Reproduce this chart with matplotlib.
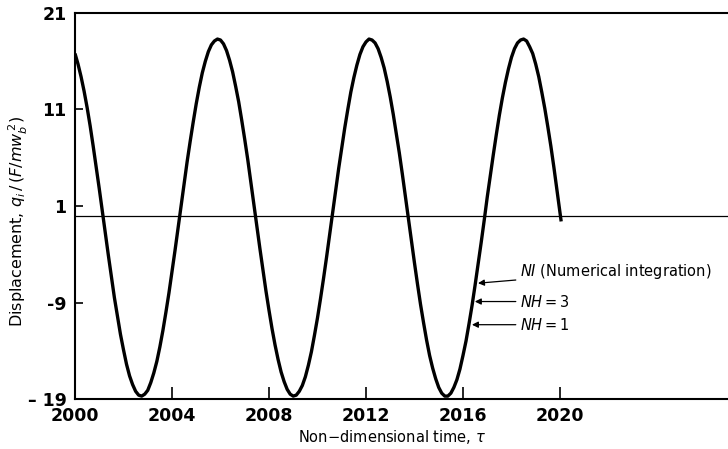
import matplotlib
matplotlib.use("Agg")
import matplotlib.pyplot as plt

# Non-dimensional time and displacement samples of the response curve
tau = [2000.0 + 0.125 * i for i in range(160)] + [2020.05]
q = [
    16.8, 15.7, 14.4, 12.9, 11.2, 9.3, 7.2, 5.0, 2.8, 0.5,
    -1.8, -4.1, -6.3, -8.5, -10.4, -12.3, -13.9, -15.4, -16.6, -17.5,
    -18.2, -18.6, -18.7, -18.5, -18.1, -17.3, -16.3, -15.1, -13.6, -11.9,
    -10.0, -8.0, -5.8, -3.6, -1.3, 1.0, 3.3, 5.6, 7.7, 9.7,
    11.6, 13.3, 14.8, 16.0, 17.0, 17.7, 18.1, 18.3, 18.2, 17.8,
    17.1, 16.1, 14.9, 13.4, 11.8, 9.9, 7.9, 5.8, 3.5, 1.2,
    -1.1, -3.4, -5.6, -7.8, -9.8, -11.7, -13.4, -14.9, -16.2, -17.2,
    -18.0, -18.5, -18.7, -18.6, -18.2, -17.6, -16.7, -15.5, -14.1, -12.4,
    -10.6, -8.6, -6.5, -4.3, -2.0, 0.3, 2.6, 4.9, 7.0, 9.1,
    11.0, 12.8, 14.3, 15.6, 16.7, 17.5, 18.0, 18.3, 18.2, 17.9,
    17.3, 16.4, 15.3, 13.9, 12.3, 10.5, 8.5, 6.5, 4.3, 2.0,
    -0.3, -2.6, -4.9, -7.1, -9.2, -11.1, -12.9, -14.5, -15.8, -16.9,
    -17.8, -18.4, -18.7, -18.7, -18.4, -17.8, -17.0, -15.9, -14.5, -13.0,
    -11.2, -9.3, -7.2, -5.0, -2.8, -0.5, 1.9, 4.1, 6.3, 8.4,
    10.4, 12.2, 13.8, 15.2, 16.4, 17.3, 17.9, 18.2, 18.3, 18.1,
    17.5, 16.8, 15.7, 14.4, 12.8, 11.1, 9.2, 7.2, 5.0, 2.7,
    -0.6,
]

x_ticks = [2000, 2004, 2008, 2012, 2016, 2020]
y_ticks = [-19, -9, 1, 11, 21]
y_tick_labels = ["\u2013 19", "-9", "1", "11", "21"]

# Curve labels and the points their arrows point to
labels = ["$NI$ (Numerical integration)", "$NH=3$", "$NH=1$"]
label_tips = [(2016.62, -7.0), (2016.49, -8.9), (2016.37, -11.3)]
label_text_pos = [(2018.35, -5.8), (2018.35, -8.9), (2018.35, -11.3)]

plt.rcParams["font.family"] = ["DejaVu Sans"]
plt.rcParams["mathtext.fontset"] = "dejavusans"

fig = plt.figure(figsize=(7.28, 4.49), dpi=100)
ax = fig.add_axes([75 / 728, 50 / 449, 1 - 75 / 728, 386 / 449])

ax.plot(tau, q, color="black", lw=2.4, solid_capstyle="butt",
        solid_joinstyle="round", zorder=3)
ax.axhline(0, color="black", lw=0.9, zorder=2)

ax.set_xlim(2000, 2026.93)
ax.set_ylim(-19, 21)
ax.set_xticks(x_ticks)
ax.set_yticks(y_ticks)
ax.set_yticklabels(y_tick_labels)

for s in ["left", "top", "bottom"]:
    ax.spines[s].set_linewidth(1.5)
ax.spines["right"].set_visible(False)

ax.tick_params(axis="x", direction="in", length=9, width=1.2, pad=6,
               labelsize=12.5)
ax.tick_params(axis="y", direction="in", length=6, width=1.2, pad=6,
               labelsize=12.5)
for lab in ax.get_xticklabels() + ax.get_yticklabels():
    lab.set_fontweight("bold")

fig.text(392 / 728, 1 - 437 / 449, r"Non$-$dimensional time, $\tau$",
         ha="center", va="center", fontsize=10.5)
fig.text(18 / 728, 1 - 222 / 449,
         r"Displacement, $q_i\,/\,(F/mw_b^{\,2})$",
         rotation=90, ha="center", va="center", fontsize=11.5)

for text, tip, pos in zip(labels, label_tips, label_text_pos):
    ax.annotate(text, xy=tip, xytext=pos, ha="left", va="center",
                fontsize=10.5,
                arrowprops=dict(arrowstyle="-|>", color="black", lw=0.9,
                                mutation_scale=9, shrinkA=1, shrinkB=0))

fig.savefig("out.png", dpi=100)
